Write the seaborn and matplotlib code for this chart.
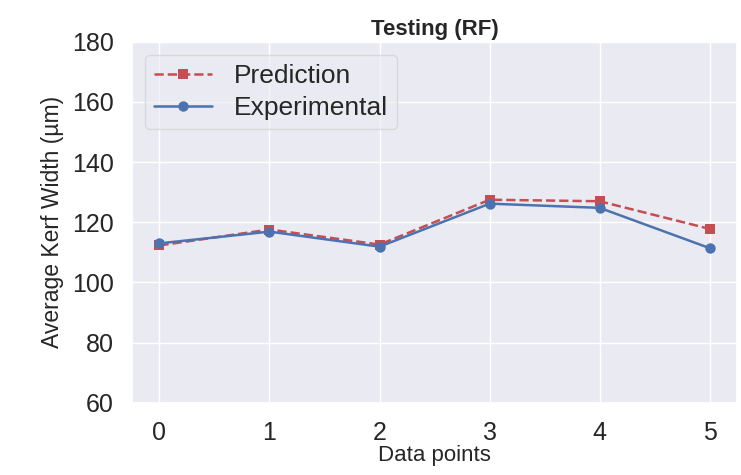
import numpy as np
import pandas as pd
import seaborn as sns
import matplotlib.pyplot as plt

# values
data_points = [0, 1, 2, 3, 4, 5]
prediction = [112.3, 117.6, 112.6, 127.5, 127.0, 117.8]
experimental = [113.0, 116.9, 111.9, 126.2, 124.8, 111.4]

sns.set_theme(style="darkgrid", color_codes=True)
plt.rcParams['font.family'] = ['Liberation Sans', 'DejaVu Sans']

df = pd.DataFrame({'Data points': data_points,
                   'Prediction': prediction,
                   'Experimental': experimental})

fig = plt.figure(figsize=(7.41, 4.75), dpi=100)
ax = fig.add_axes([0.178, 0.152, 0.817, 0.76])

sns.lineplot(data=df, x='Data points', y='Prediction', ax=ax, color='r',
             linestyle='--', marker='s', markersize=7.5, markeredgewidth=0,
             linewidth=1.8, label='Prediction')
sns.lineplot(data=df, x='Data points', y='Experimental', ax=ax, color='b',
             linestyle='-', marker='o', markersize=7.5, markeredgewidth=0,
             linewidth=1.8, label='Experimental')

ax.set_ylim(60, 180)
ax.set_yticks([60, 80, 100, 120, 140, 160, 180])
ax.set_xticks(data_points)
ax.tick_params(labelsize=18, pad=7)
ax.set_xlabel('Data points', fontsize=16, labelpad=0)
ax.set_ylabel('Average Kerf Width (µm)', fontsize=16.5, labelpad=6)
ax.set_title('Testing (RF)', fontsize=16, fontweight='bold', pad=5)
ax.legend(loc='upper left', fontsize=19, framealpha=0.6, handlelength=2.2,
          borderaxespad=0.5, labelspacing=0.3, borderpad=0.35)

plt.savefig('out.png', dpi=100)
